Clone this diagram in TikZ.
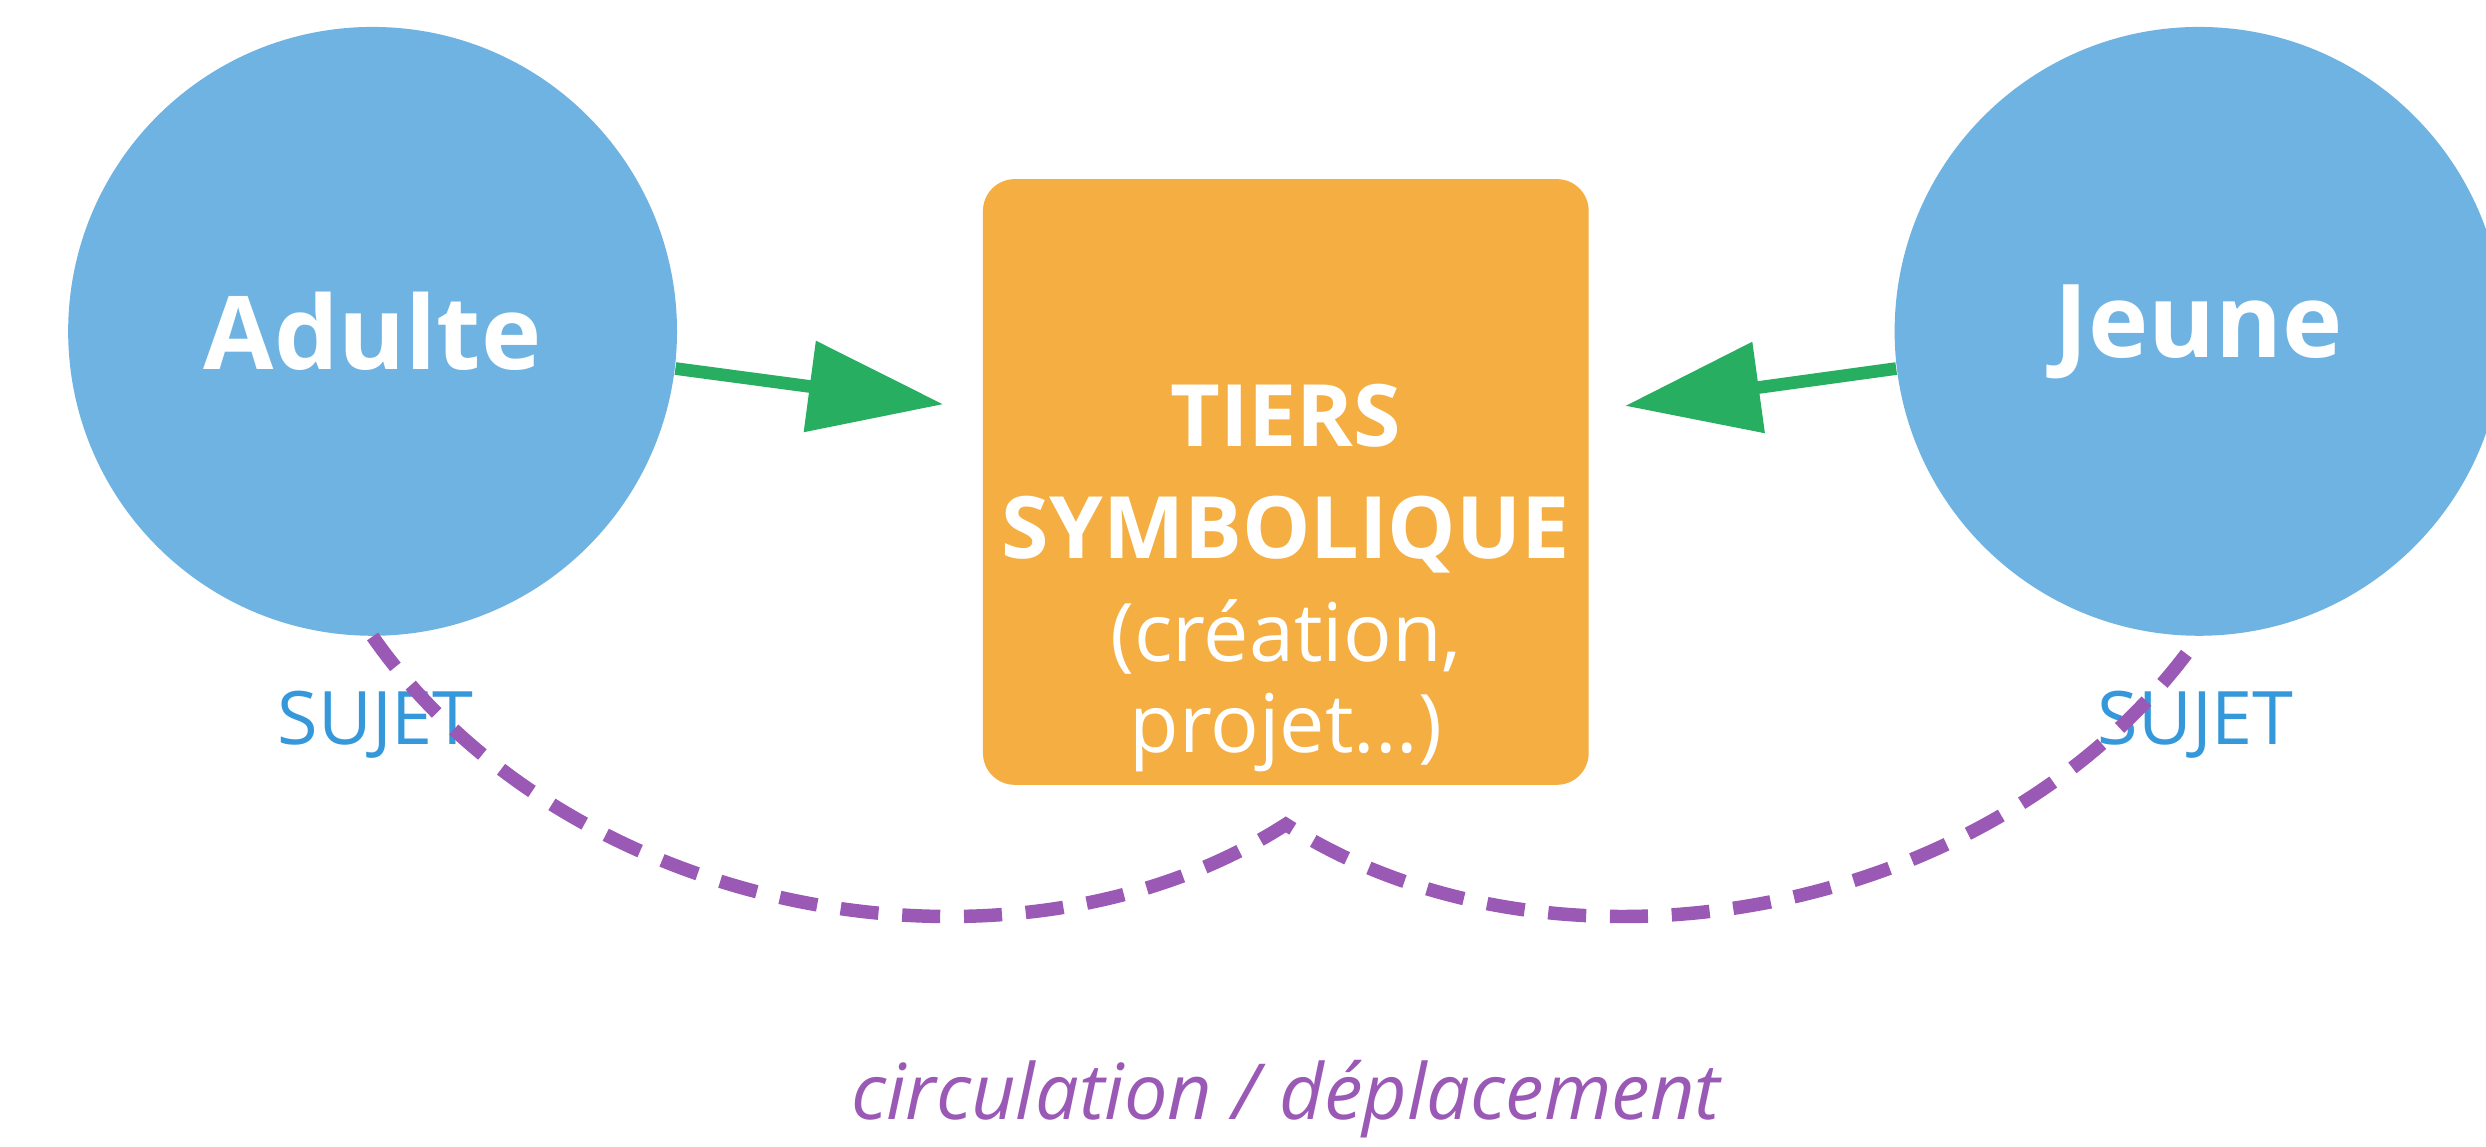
\documentclass[tikz,border=0pt]{standalone}
\usepackage{fontspec}
\setmainfont{Open Sans}
\usetikzlibrary{arrows.meta}
\definecolor{cblue}{RGB}{110,179,226}
\definecolor{corange}{RGB}{244,174,66}
\definecolor{cgreen}{RGB}{39,174,96}
\definecolor{cpurple}{RGB}{155,89,182}
\definecolor{csujet}{RGB}{52,152,219}
\tikzset{
  pu/.style={x=0.015855cm,y=-0.015855cm},
  person/.style={circle,fill=cblue,draw=none,minimum size={384*0.4511pt},inner sep=0pt,
    text=white,font=\bfseries\fontsize{29}{34}\selectfont},
  tiersbox/.style={rectangle,fill=corange,draw=none,rounded corners={20*0.4511pt},
    minimum width={382*0.4511pt},minimum height={382*0.4511pt},inner sep=0pt},
  boxbold/.style={text=white,font=\bfseries\fontsize{24.5}{29}\selectfont,inner sep=0pt},
  boxlight/.style={text=white,font=\fontsize{23}{27}\selectfont,inner sep=0pt},
  sujet/.style={text=csujet,font=\fontsize{21}{25}\selectfont,inner sep=0pt},
  greenarrow/.style={draw=cgreen,line width={8*0.4511pt},
    -{Triangle[length={85*0.4511pt},width={56*0.4511pt}]}},
  circpath/.style={draw=cpurple,line width={8.5*0.4511pt},dash pattern=on {24*0.4511pt} off {15*0.4511pt}},
  circlabel/.style={text=cpurple,font=\itshape\fontsize{22}{26}\selectfont,inner sep=0pt}
}
\begin{document}
\begin{tikzpicture}[pu]
\clip (0,0) rectangle (1568,723);
\fill[white] (0,0) rectangle (1568,723);
\node[person] (A) at (235,209) {Adulte};
\node[person] (J) at (1387,209) {Jeune};
\node[tiersbox] (T) at (811,304) {};
\node[boxbold] (t1) at (811,262) {TIERS};
\node[boxbold] (t2) at (811,337) {SYMBOLIQUE};
\node[boxlight] (t3) at (811,402) {(création,};
\node[boxlight] (t4) at (811,462) {projet...)};
\node[sujet] (sA) at (237,457) {SUJET};
\node[sujet] (sJ) at (1385,457) {SUJET};
\coordinate (aL) at (595,255);
\coordinate (aR) at (1025,256);
\coordinate (cusp) at (811,520);
\draw[greenarrow] (A.-7) -- (aL);
\draw[greenarrow] (J.187) -- (aR);
\draw[circpath] (A.south) .. controls (360,580) and (640,630) .. (cusp)
  .. controls (982,630) and (1262,580) .. (J.south);
\node[circlabel] (lab) at (811,693) {circulation / déplacement};
\end{tikzpicture}
\end{document}
